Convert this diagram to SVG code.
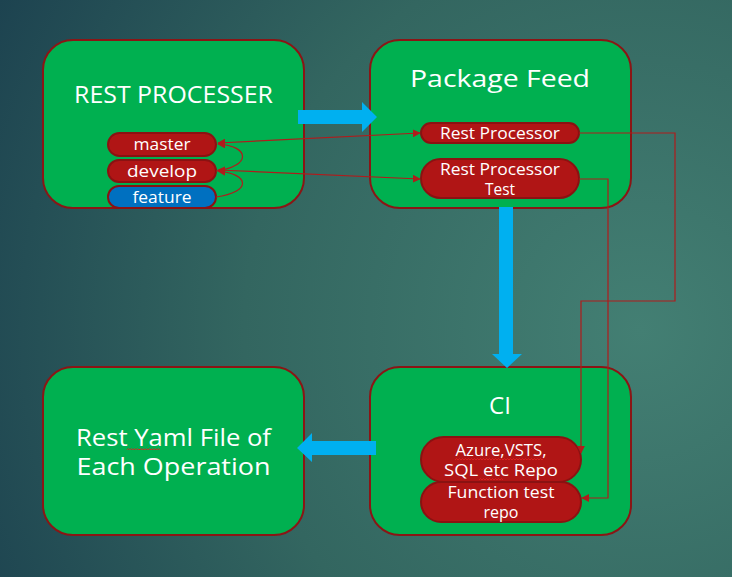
<svg xmlns="http://www.w3.org/2000/svg" width="732" height="577" viewBox="0 0 732 577">
<defs>
<radialGradient id="bg" cx="640" cy="330" r="720" gradientUnits="userSpaceOnUse">
<stop offset="0" stop-color="#437f73"/>
<stop offset="0.55" stop-color="#336660"/>
<stop offset="1" stop-color="#1d4350"/>
</radialGradient>
<marker id="ah" viewBox="0 0 10 10" refX="9" refY="5" markerWidth="8" markerHeight="8" markerUnits="userSpaceOnUse" orient="auto-start-reverse">
<path d="M0,0 L10,5 L0,10 Z" fill="#b01c1c"/>
</marker>
</defs>
<style>
.box{fill:#00b050;stroke:#8b1515;stroke-width:2}
.pill{fill:#b01515;stroke:#8a1212;stroke-width:2}
.blue{fill:#0070c0;stroke:#8a1212;stroke-width:2}
.big{font-family:"Open Sans","Liberation Sans",sans-serif;fill:#ffffff;font-size:24px;text-anchor:middle}
.sm{font-family:"Open Sans","Liberation Sans",sans-serif;fill:#ffffff;font-size:16px;text-anchor:middle}
.flow{fill:#00b0f0}
.con{fill:none;stroke:#b01c1c;stroke-width:1.2}
.wv{fill:none;stroke:#e02020;stroke-width:0.9}
</style>
<rect x="0" y="0" width="732" height="577" fill="url(#bg)"/>

<g id="rest-processer">
<rect class="box" x="43" y="40" width="261" height="168" rx="30"/>
<text class="big" x="173.5" y="103" textLength="199" lengthAdjust="spacingAndGlyphs">REST PROCESSER</text>
</g>
<g id="package-feed">
<rect class="box" x="370" y="40" width="261" height="168" rx="30"/>
<text class="big" x="500" y="87" textLength="180" lengthAdjust="spacingAndGlyphs">Package Feed</text>
</g>
<g id="rest-yaml">
<rect class="box" x="43" y="367" width="261" height="168" rx="30"/>
<text class="big" x="173.5" y="446" textLength="195" lengthAdjust="spacingAndGlyphs">Rest Yaml File of</text>
<text class="big" x="173.5" y="475" textLength="194" lengthAdjust="spacingAndGlyphs">Each Operation</text>
<path class="wv" d="M127,450 l1.5,-1.5 l1.5,1.5 l1.5,-1.5 l1.5,1.5 l1.5,-1.5 l1.5,1.5 l1.5,-1.5 l1.5,1.5 l1.5,-1.5 l1.5,1.5 l1.5,-1.5 l1.5,1.5 l1.5,-1.5 l1.5,1.5 l1.5,-1.5 l1.5,1.5 l1.5,-1.5 l1.5,1.5 l1.5,-1.5 l1.5,1.5 l1.5,-1.5 l1.5,1.5"/>
</g>
<g id="ci">
<rect class="box" x="370" y="367" width="261" height="168" rx="30"/>
<text class="big" x="500" y="414">CI</text>
</g>

<g id="flow-arrows">
<path class="flow" d="M298,110 H362 V102 L377,117 L362,132 V124 H298 Z"/>
<path class="flow" d="M499,207 H513 V354 H522 L507,368 L492,354 H499 Z"/>
<path class="flow" d="M376,441 H312 V433 L297,448 L312,462 V455 H376 Z"/>
</g>

<g id="master">
<rect class="pill" x="108" y="133" width="108" height="23" rx="11.5"/>
<text class="sm" x="162" y="150" textLength="57" lengthAdjust="spacingAndGlyphs">master</text>
</g>
<g id="develop">
<rect class="pill" x="108" y="160" width="108" height="22" rx="11"/>
<text class="sm" x="162" y="177" textLength="70" lengthAdjust="spacingAndGlyphs">develop</text>
</g>
<g id="feature">
<rect class="blue" x="108" y="186" width="108" height="22" rx="11"/>
<text class="sm" x="162" y="203" textLength="59" lengthAdjust="spacingAndGlyphs">feature</text>
</g>
<g id="rest-processor">
<rect class="pill" x="421" y="123" width="158" height="20" rx="10"/>
<text class="sm" x="500" y="139" textLength="120" lengthAdjust="spacingAndGlyphs">Rest Processor</text>
</g>
<g id="rest-processor-test">
<rect class="pill" x="421" y="159" width="158" height="39" rx="19.5"/>
<text class="sm" x="500" y="175" textLength="120" lengthAdjust="spacingAndGlyphs">Rest Processor</text>
<text class="sm" x="500" y="195" textLength="30" lengthAdjust="spacingAndGlyphs">Test</text>
</g>
<g id="azure-repo">
<rect class="pill" x="421" y="437" width="160" height="45" rx="22.5"/>
<text class="sm" x="501" y="456" textLength="91" lengthAdjust="spacingAndGlyphs">Azure,VSTS,</text>
<text class="sm" x="501" y="476" textLength="114" lengthAdjust="spacingAndGlyphs">SQL etc Repo</text>
<path class="wv" d="M455,460 l1.5,-1.5 l1.5,1.5 l1.5,-1.5 l1.5,1.5 l1.5,-1.5 l1.5,1.5 l1.5,-1.5 l1.5,1.5 l1.5,-1.5 l1.5,1.5 l1.5,-1.5 l1.5,1.5 l1.5,-1.5 l1.5,1.5 l1.5,-1.5 l1.5,1.5 l1.5,-1.5 l1.5,1.5 l1.5,-1.5 l1.5,1.5 l1.5,-1.5 l1.5,1.5 l1.5,-1.5 l1.5,1.5 l1.5,-1.5 l1.5,1.5 l1.5,-1.5 l1.5,1.5 l1.5,-1.5 l1.5,1.5 l1.5,-1.5 l1.5,1.5 l1.5,-1.5 l1.5,1.5 l1.5,-1.5 l1.5,1.5 l1.5,-1.5 l1.5,1.5 l1.5,-1.5 l1.5,1.5 l1.5,-1.5 l1.5,1.5 l1.5,-1.5 l1.5,1.5 l1.5,-1.5 l1.5,1.5 l1.5,-1.5 l1.5,1.5 l1.5,-1.5 l1.5,1.5 l1.5,-1.5 l1.5,1.5 l1.5,-1.5 l1.5,1.5 l1.5,-1.5 l1.5,1.5 l1.5,-1.5 l1.5,1.5 l1.5,-1.5"/>
<path class="wv" d="M479,480 l1.5,-1.5 l1.5,1.5 l1.5,-1.5 l1.5,1.5 l1.5,-1.5 l1.5,1.5 l1.5,-1.5 l1.5,1.5 l1.5,-1.5 l1.5,1.5 l1.5,-1.5 l1.5,1.5 l1.5,-1.5 l1.5,1.5 l1.5,-1.5 l1.5,1.5"/>
</g>
<g id="function-test-repo">
<rect class="pill" x="421" y="482" width="160" height="40" rx="20"/>
<text class="sm" x="501" y="498" textLength="107" lengthAdjust="spacingAndGlyphs">Function test</text>
<text class="sm" x="501" y="518" textLength="35" lengthAdjust="spacingAndGlyphs">repo</text>
</g>

<g id="connectors">
<path class="con" d="M420,133 L218,143" marker-start="url(#ah)" marker-end="url(#ah)"/>
<path class="con" d="M420,179 L218,170" marker-start="url(#ah)" marker-end="url(#ah)"/>
<path class="con" d="M216,171 C252,166 250,146 218,144" marker-end="url(#ah)"/>
<path class="con" d="M216,197 C252,192 250,174 218,171" marker-end="url(#ah)"/>
<path class="con" d="M579,133 H675 V301 H581 V453" marker-end="url(#ah)"/>
<path class="con" d="M579,179 H608 V498 H582" marker-end="url(#ah)"/>
</g>
</svg>
